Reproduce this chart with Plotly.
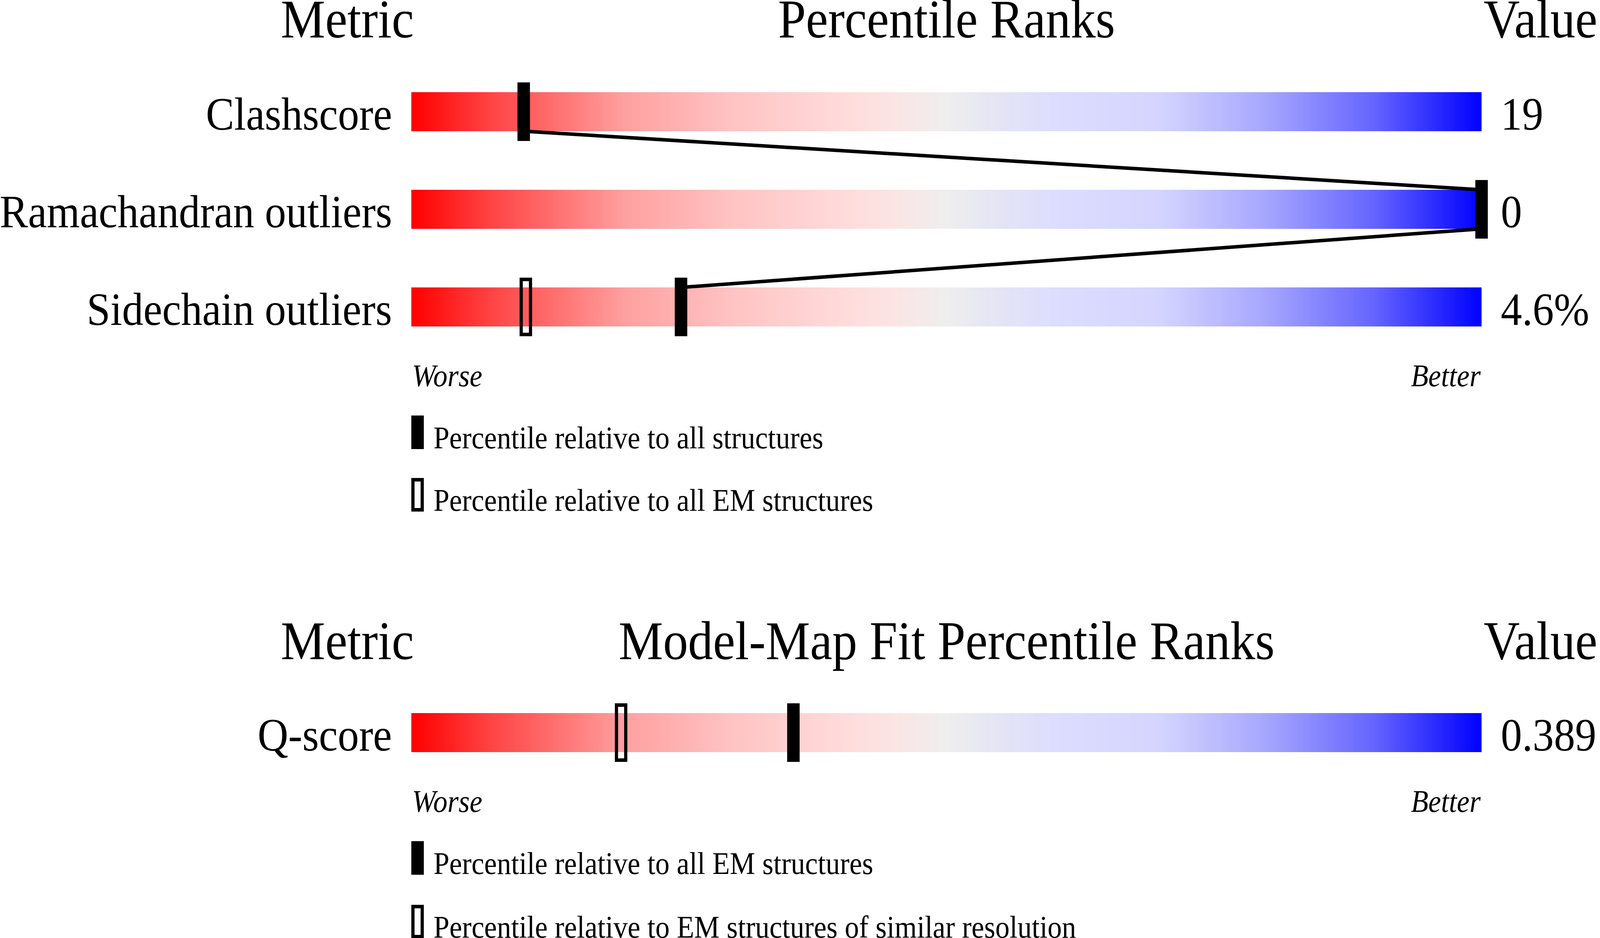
import numpy as np
import plotly.graph_objects as go

# validation data
metrics = ["Clashscore", "Ramachandran outliers", "Sidechain outliers"]
values = ["19", "0", "4.6%"]
pct_all = [10.5, 100, 25.2]          # filled markers
pct_em = [None, None, 10.7]         # open markers

fit_metrics = ["Q-score"]
fit_values = ["0.389"]
fit_pct_em = [35.7]                  # filled
fit_pct_res = [19.6]                 # open

W, H = 4485, 2402
X0, PXU = 1153, 30.0               # pixel of 0 percentile, pixels per percentile
FONT = "Liberation Serif"

rows1 = [286, 536, 786]
rows2 = [1876]
bar_h = 100
mk_h = 150
mk_w = 35 / PXU
lw_open = 9

colorscale = [
    [0.0, "rgb(255,0,0)"],
    [0.075, "rgb(255,68,68)"],
    [0.2, "rgb(255,160,160)"],
    [0.3, "rgb(255,195,195)"],
    [0.4, "rgb(255,218,218)"],
    [0.45, "rgb(252,228,228)"],
    [0.5, "rgb(238,238,238)"],
    [0.55, "rgb(228,228,245)"],
    [0.6, "rgb(221,221,255)"],
    [0.7, "rgb(212,212,255)"],
    [0.8, "rgb(165,165,255)"],
    [0.9, "rgb(100,100,255)"],
    [1.0, "rgb(0,0,255)"],
]

fig = go.Figure()
edges = np.linspace(0, 100, 601)
mids = (edges[:-1] + edges[1:]) / 2


def add_bar(yc):
    fig.add_trace(go.Heatmap(x=edges, y=[yc - bar_h / 2, yc + bar_h / 2], z=[mids],
                             colorscale=colorscale, zmin=0, zmax=100,
                             showscale=False, hoverinfo="skip"))


def ann(x, y, text, size, xanchor="center", italic=False):
    fig.add_annotation(x=x, y=y, xref="x", yref="y", text=text, showarrow=False,
                       xanchor=xanchor, yanchor="middle",
                       font=dict(family=FONT, size=size, color="black",
                                 style="italic" if italic else "normal"))


def marker(p, yc, filled):
    if p is None:
        return
    if filled:
        fig.add_shape(type="rect", x0=p - mk_w / 2, x1=p + mk_w / 2,
                      y0=yc - mk_h / 2, y1=yc + mk_h / 2, xref="x", yref="y",
                      fillcolor="black", line=dict(width=0), layer="above")
    else:
        d = lw_open / 2 / PXU
        fig.add_shape(type="rect", x0=p - mk_w / 2 + d, x1=p + mk_w / 2 - d,
                      y0=yc - mk_h / 2 + lw_open / 2, y1=yc + mk_h / 2 - lw_open / 2,
                      xref="x", yref="y", fillcolor="rgba(0,0,0,0)",
                      line=dict(color="black", width=lw_open), layer="above")


def legend(yc, filled, text):
    marker_h = 86
    if filled:
        fig.add_shape(type="rect", x0=0, x1=mk_w, y0=yc - marker_h / 2, y1=yc + marker_h / 2,
                      xref="x", yref="y", fillcolor="black", line=dict(width=0))
    else:
        d = lw_open / 2 / PXU
        fig.add_shape(type="rect", x0=d, x1=mk_w - d, y0=yc - marker_h / 2 + lw_open / 2,
                      y1=yc + marker_h / 2 - lw_open / 2, xref="x", yref="y",
                      fillcolor="rgba(0,0,0,0)", line=dict(color="black", width=lw_open))
    ann(2.0, yc + 14, text, 80, xanchor="left")


# panel 1
lab_x = (1101 - X0) / PXU
val_x = (4205 - X0) / PXU
ann(-6.0, 48, "Metric", 140)
ann(50, 48, "Percentile Ranks", 140)
ann(105.5, 48, "Value", 140)
for m, v, y in zip(metrics, values, rows1):
    add_bar(y)
    ann(lab_x, y + 6, m, 119, xanchor="right")
    ann(val_x, y + 6, v, 119, xanchor="left")

# connecting line through the filled markers
lx, ly = [], []
for i, (p, y) in enumerate(zip(pct_all, rows1)):
    if i > 0:
        lx.append(p)
        ly.append(y - bar_h / 2)
    if i < len(rows1) - 1:
        lx.append(p)
        ly.append(y + bar_h / 2)
fig.add_trace(go.Scatter(x=lx, y=ly, mode="lines", line=dict(color="black", width=9),
                         hoverinfo="skip", showlegend=False))

for p, q, y in zip(pct_all, pct_em, rows1):
    marker(q, y, False)
    marker(p, y, True)

ann(0, 962, "Worse", 80, xanchor="left", italic=True)
ann(100, 962, "Better", 80, xanchor="right", italic=True)
legend(1107, True, "Percentile relative to all structures")
legend(1267, False, "Percentile relative to all EM structures")

# panel 2
ann(-6.0, 1640, "Metric", 140)
ann(50, 1640, "Model-Map Fit Percentile Ranks", 140)
ann(105.5, 1640, "Value", 140)
for m, v, y in zip(fit_metrics, fit_values, rows2):
    add_bar(y)
    ann(lab_x, y + 6, m, 119, xanchor="right")
    ann(val_x, y + 6, v, 119, xanchor="left")
for p, q, y in zip(fit_pct_em, fit_pct_res, rows2):
    marker(q, y, False)
    marker(p, y, True)

ann(0, 2052, "Worse", 80, xanchor="left", italic=True)
ann(100, 2052, "Better", 80, xanchor="right", italic=True)
legend(2197, True, "Percentile relative to all EM structures")
legend(2360, False, "Percentile relative to EM structures of similar resolution")

fig.update_xaxes(range=[-X0 / PXU, (W - X0) / PXU], visible=False, fixedrange=True)
fig.update_yaxes(range=[H, 0], visible=False, fixedrange=True)
fig.update_layout(width=W, height=H, margin=dict(l=0, r=0, t=0, b=0),
                  plot_bgcolor="white", paper_bgcolor="white", showlegend=False)

# the page viewport may not be exactly W x H: stretch the figure to fill it
fit_js = """
var gd = document.getElementById('{plot_id}');
var sx = window.innerWidth / %d, sy = window.innerHeight / %d;
document.documentElement.style.overflow = 'hidden';
document.body.style.margin = '0';
document.body.style.overflow = 'hidden';
gd.style.transformOrigin = '0 0';
gd.style.transform = 'scale(' + sx + ',' + sy + ')';
""" % (W, H)

fig.write_html("out.html", post_script=fit_js, config={"displayModeBar": False})
